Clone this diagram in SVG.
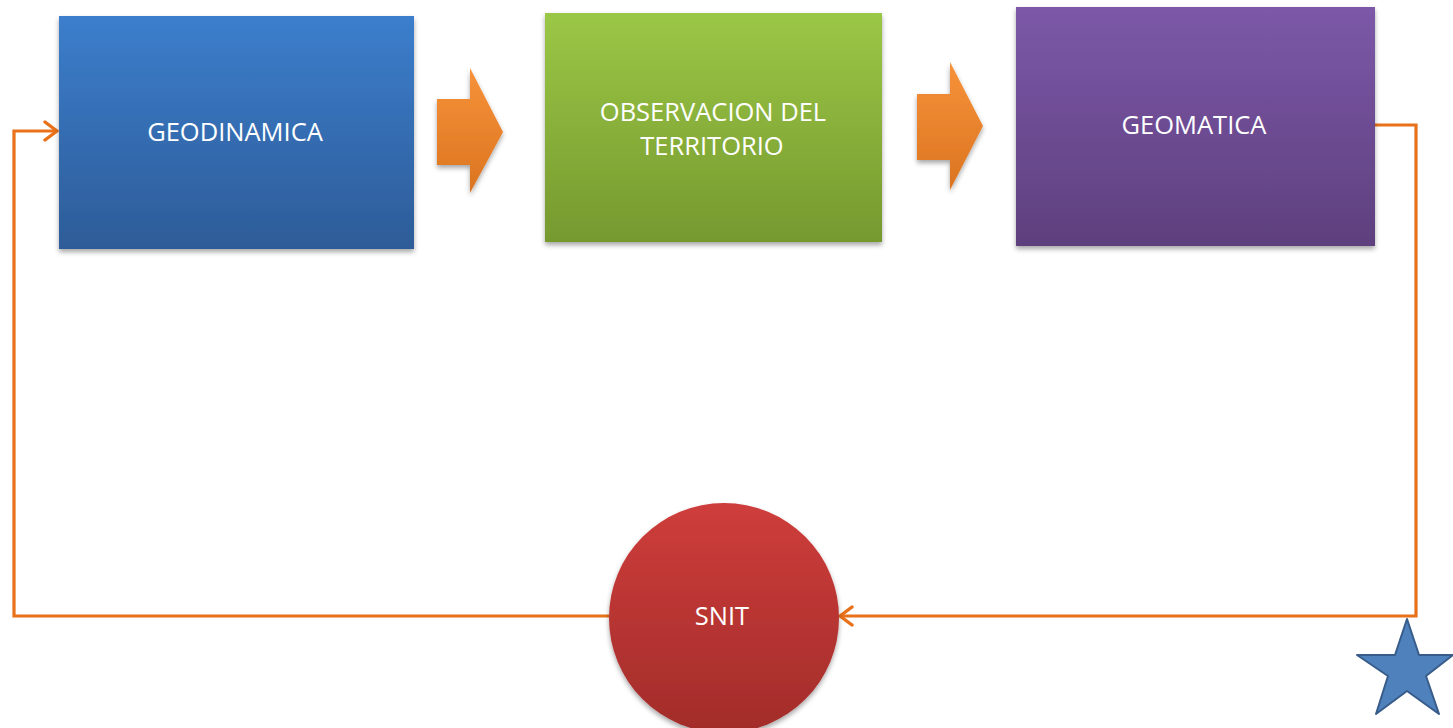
<svg xmlns="http://www.w3.org/2000/svg" width="1453" height="728" viewBox="0 0 1453 728">
<style>
.lbl{font-family:"Open Sans","Liberation Sans",sans-serif;font-size:25.5px;fill:#ffffff;text-anchor:middle;dominant-baseline:central}
.conn{fill:none;stroke:#E8711A;stroke-width:3.2}
</style>
<defs>
<linearGradient id="gBlue" x1="0" y1="0" x2="0" y2="1"><stop offset="0" stop-color="#3C7ECC"/><stop offset="1" stop-color="#2D5C98"/></linearGradient>
<linearGradient id="gGreen" x1="0" y1="0" x2="0" y2="1"><stop offset="0" stop-color="#9BC746"/><stop offset="1" stop-color="#76992F"/></linearGradient>
<linearGradient id="gPurple" x1="0" y1="0" x2="0" y2="1"><stop offset="0" stop-color="#7C58A8"/><stop offset="1" stop-color="#5E407E"/></linearGradient>
<linearGradient id="gRed" x1="0" y1="0" x2="0" y2="1"><stop offset="0" stop-color="#CE3D3B"/><stop offset="1" stop-color="#A22C2A"/></linearGradient>
<linearGradient id="gOrange" x1="0" y1="0" x2="0" y2="1"><stop offset="0" stop-color="#F7923A"/><stop offset="1" stop-color="#DB7420"/></linearGradient>
<filter id="sh" x="-10%" y="-10%" width="120%" height="125%"><feDropShadow dx="0" dy="3" stdDeviation="2.5" flood-color="#000" flood-opacity="0.35"/></filter>
<marker id="ah" viewBox="0 0 22 22" refX="20" refY="11" markerWidth="22" markerHeight="22" markerUnits="userSpaceOnUse" orient="auto"><path d="M8,2 L20,11 L8,20" fill="none" stroke="#E8711A" stroke-width="3.4" stroke-linecap="round" stroke-linejoin="round"/></marker>
</defs>
<g id="connectors">
<path class="conn" d="M609,616 H14 V131 H57" marker-end="url(#ah)"/>
<path class="conn" d="M1375,125 H1416 V616 H840" marker-end="url(#ah)"/>
</g>
<g id="geodinamica">
<rect x="59" y="16" width="355" height="233" fill="url(#gBlue)" filter="url(#sh)"/>
<text class="lbl" x="235" y="131">GEODINAMICA</text>
</g>
<g id="arrow1">
<polygon points="437,99 470,99 470,68 503,132 470,193 470,165 437,165" fill="url(#gOrange)" filter="url(#sh)"/>
</g>
<g id="observacion">
<rect x="545" y="13" width="337" height="229" fill="url(#gGreen)" filter="url(#sh)"/>
<text class="lbl" x="713" y="111">OBSERVACION DEL</text>
<text class="lbl" x="712" y="145">TERRITORIO</text>
</g>
<g id="arrow2">
<polygon points="917,94 950,94 950,62 983,126 950,190 950,160 917,160" fill="url(#gOrange)" filter="url(#sh)"/>
</g>
<g id="geomatica">
<rect x="1016" y="7" width="359" height="239" fill="url(#gPurple)" filter="url(#sh)"/>
<text class="lbl" x="1194" y="124">GEOMATICA</text>
</g>
<g id="snit">
<circle cx="724" cy="618" r="115" fill="url(#gRed)" filter="url(#sh)"/>
<text class="lbl" x="722" y="615">SNIT</text>
</g>
<g id="star">
<polygon points="1407,619 1419,655 1453,655 1426,676 1439,714 1407,691 1376,714 1388,676 1357,655 1395,655" fill="#4F81BD" stroke="#385D8A" stroke-width="2" stroke-linejoin="round"/>
</g>
</svg>
